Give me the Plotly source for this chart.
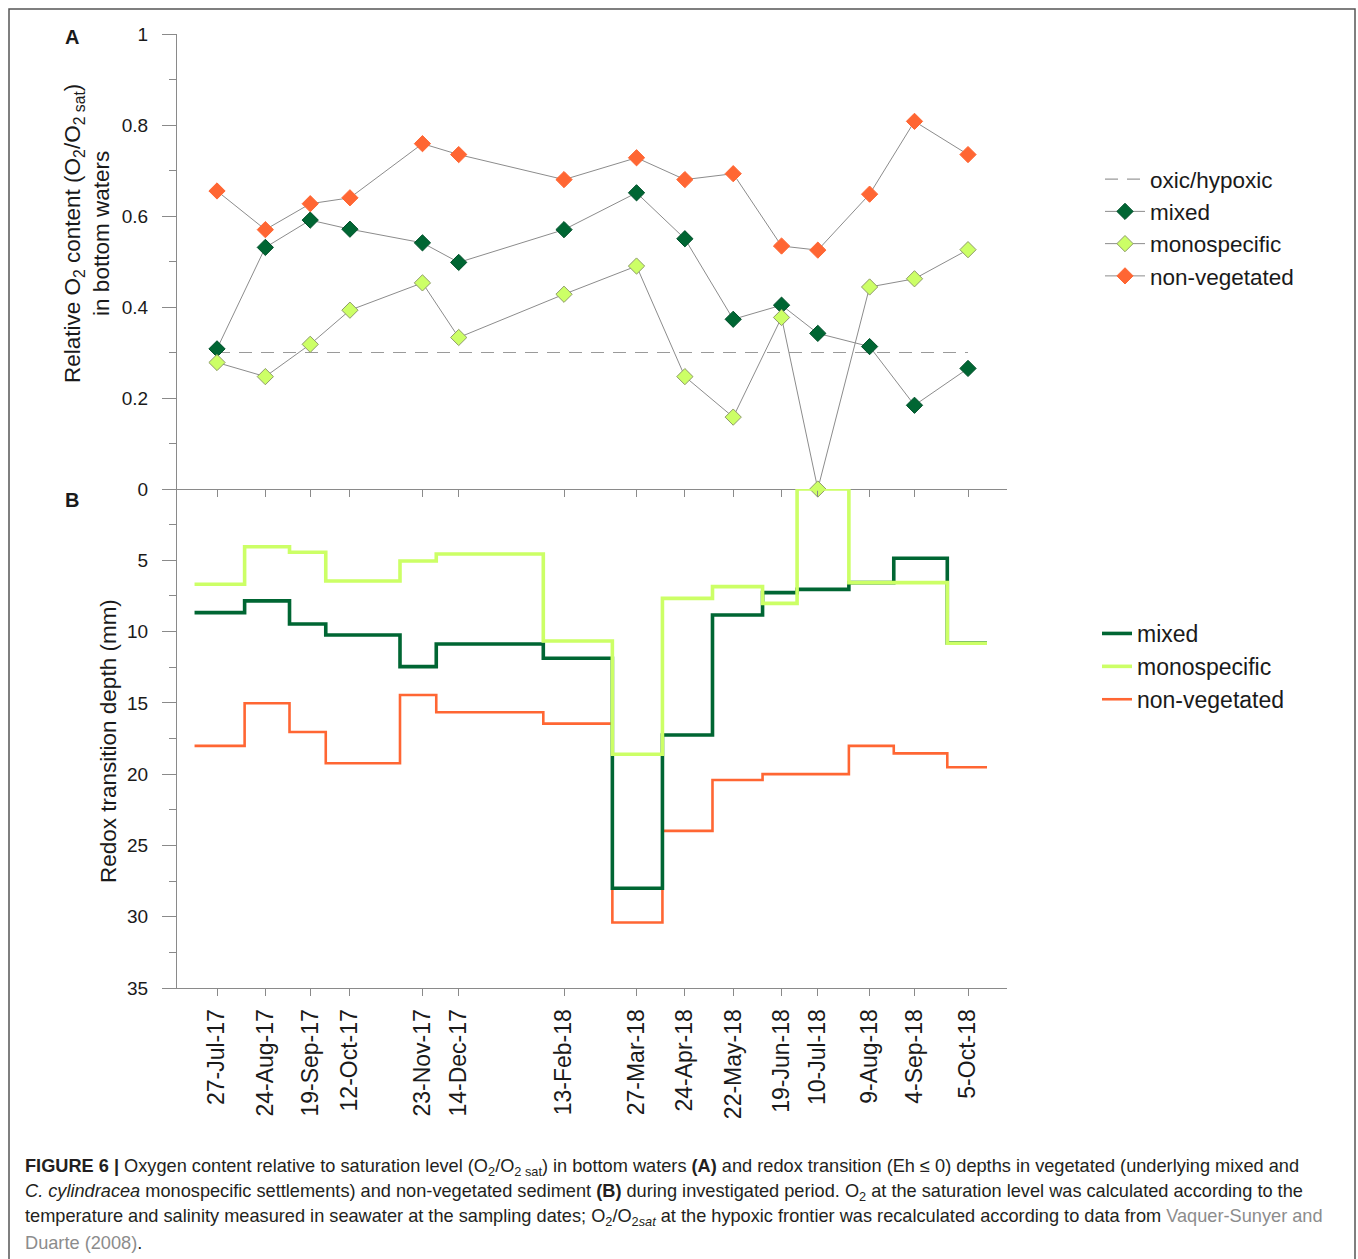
import pandas as pd
import plotly.graph_objects as go

# ---------------- data ----------------
dates = ['2017-07-27', '2017-08-24', '2017-09-19', '2017-10-12', '2017-11-23',
         '2017-12-14', '2018-02-13', '2018-03-27', '2018-04-24', '2018-05-22',
         '2018-06-19', '2018-07-10', '2018-08-09', '2018-09-04', '2018-10-05']
date_labels = ['27-Jul-17', '24-Aug-17', '19-Sep-17', '12-Oct-17', '23-Nov-17',
               '14-Dec-17', '13-Feb-18', '27-Mar-18', '24-Apr-18', '22-May-18',
               '19-Jun-18', '10-Jul-18', '9-Aug-18', '4-Sep-18', '5-Oct-18']

# boundaries between the sampling periods used for the step lines in panel B
period_edges = ['2017-07-14', '2017-08-12', '2017-09-07', '2017-09-28', '2017-11-10',
                '2017-12-01', '2018-02-01', '2018-03-13', '2018-04-11', '2018-05-10',
                '2018-06-08', '2018-06-28', '2018-07-28', '2018-08-23', '2018-09-23',
                '2018-10-16']

o2_mixed = [0.308, 0.531, 0.591, 0.571, 0.541, 0.498, 0.570, 0.651, 0.550, 0.373,
            0.404, 0.342, 0.313, 0.184, 0.265]
o2_mono = [0.278, 0.247, 0.318, 0.393, 0.453, 0.333, 0.428, 0.490, 0.247, 0.158,
           0.377, 0.000, 0.444, 0.462, 0.526]
o2_nonveg = [0.655, 0.570, 0.627, 0.640, 0.759, 0.735, 0.680, 0.728, 0.680, 0.693,
             0.534, 0.525, 0.648, 0.808, 0.735]
hypoxic_level = 0.3

redox_mixed = [8.67, 7.85, 9.47, 10.24, 12.46, 10.87, 11.87, 28.0, 17.25, 8.84,
               7.27, 7.04, 6.57, 4.86, 10.8]
redox_mono = [6.68, 4.05, 4.44, 6.45, 5.05, 4.56, 10.66, 18.6, 7.67, 6.85,
              8.02, 0.0, 6.57, 6.57, 10.82]
redox_nonveg = [18.02, 15.03, 17.04, 19.24, 14.45, 15.66, 16.46, 30.41, 23.98, 20.41,
                20.0, 20.0, 18.02, 18.54, 19.52]

top_ticks = [0.2, 0.4, 0.6, 0.8, 1.0]
top_ticktext = ['0.2', '0.4', '0.6', '0.8', '1']
top_minor = [0.1, 0.3, 0.5, 0.7, 0.9]
bot_ticks = [0, 5, 10, 15, 20, 25, 30, 35]
bot_minor = [2.5, 7.5, 12.5, 17.5, 22.5, 27.5, 32.5]

# ---------------- styles ----------------
C_MIX = '#006633'
C_MONO = '#CCFF66'
C_NON = '#FF6633'
FONT = 'Liberation Sans, Arial, sans-serif'
TXT = '#1a1a1a'
AX = '#8a8a8a'

W, H = 1358, 1259
L, R, T, B = 177, 1007, 34, 988   # plot area pixels
SPLIT = 489


def px_x(p):
    return (p - L) / (R - L)


def px_y(p):
    return (B - p) / (B - T)


def step_y(vals):
    return list(vals) + [vals[-1]]


fig = go.Figure()

# ---- panel A ----
fig.add_trace(go.Scatter(
    x=dates, y=[hypoxic_level] * len(dates), mode='lines', name='oxic/hypoxic',
    line=dict(color='#9a9a9a', width=1.2, dash='13px,9px'),
    xaxis='x', yaxis='y', legend='legend'))
for name, vals, col, edge in [('mixed', o2_mixed, C_MIX, '#00502a'),
                              ('monospecific', o2_mono, C_MONO, '#8f9b6a'),
                              ('non-vegetated', o2_nonveg, C_NON, '#ff6633')]:
    fig.add_trace(go.Scatter(
        x=dates, y=vals, mode='lines+markers', name=name,
        line=dict(color='#8c8c8c', width=1),
        marker=dict(symbol='diamond', size=12.5, color=col,
                    line=dict(color=edge, width=1)),
        cliponaxis=False, xaxis='x', yaxis='y', legend='legend'))

# ---- panel B ----
for name, vals, col, w, rank in [('non-vegetated', redox_nonveg, C_NON, 2.6, 3),
                                 ('mixed', redox_mixed, C_MIX, 3.6, 1),
                                 ('monospecific', redox_mono, C_MONO, 3.6, 2)]:
    fig.add_trace(go.Scatter(
        x=period_edges, y=step_y(vals), mode='lines', name=name,
        line=dict(color=col, width=w, shape='hv'),
        cliponaxis=False, xaxis='x2', yaxis='y2', legend='legend2',
        legendrank=rank))

xrange = ['2017-07-03 20:00', '2018-10-27 14:00']
dom_split = px_y(SPLIT)

common_axis = dict(showgrid=False, zeroline=False, showline=True, linecolor=AX,
                   linewidth=1, ticks='outside', tickcolor=AX, tickwidth=1)

fig.update_layout(
    width=W, height=H,
    margin=dict(l=L, r=W - R, t=T, b=H - B, pad=0),
    paper_bgcolor='white', plot_bgcolor='white',
    font=dict(family=FONT, color=TXT, size=19),
    xaxis=dict(**common_axis, type='date', range=xrange, anchor='y',
               tickmode='array', tickvals=dates,
               showticklabels=False, ticklen=7),
    yaxis=dict(**common_axis, domain=[dom_split, 1], range=[0, 1], anchor='x',
               tickmode='array', tickvals=top_ticks, ticktext=top_ticktext,
               ticklen=14, ticklabelstandoff=10,
               tickfont=dict(size=19, color=TXT),
               minor=dict(tickvals=top_minor, ticklen=7, ticks='outside',
                          tickcolor=AX, showgrid=False)),
    xaxis2=dict(**common_axis, type='date', range=xrange, anchor='y2',
                matches='x', tickmode='array', tickvals=dates,
                ticktext=date_labels, tickangle=-90, ticklen=7,
                ticklabelstandoff=4, tickfont=dict(size=23, color=TXT)),
    yaxis2=dict(**common_axis, domain=[0, dom_split], range=[35, 0], anchor='x2',
                tickmode='array', tickvals=bot_ticks,
                ticktext=[str(v) for v in bot_ticks],
                ticklen=14, ticklabelstandoff=10,
                tickfont=dict(size=19, color=TXT),
                minor=dict(tickvals=bot_minor, ticklen=7, ticks='outside',
                           tickcolor=AX, showgrid=False)),
    legend=dict(x=px_x(1100), y=px_y(158), xanchor='left', yanchor='top',
                bgcolor='rgba(0,0,0,0)', font=dict(size=22.5, color=TXT),
                itemwidth=40, tracegroupgap=0),
    legend2=dict(x=px_x(1097), y=px_y(612), xanchor='left', yanchor='top',
                 bgcolor='rgba(0,0,0,0)', font=dict(size=23, color=TXT),
                 itemwidth=30, tracegroupgap=0),
    showlegend=True,
)

ann = []


def add_ann(text, x, y, size, **kw):
    d = dict(text=text, x=px_x(x), y=px_y(y), xref='paper', yref='paper',
             showarrow=False, font=dict(size=size, color=kw.pop('color', TXT)),
             xanchor=kw.pop('xanchor', 'center'), yanchor='middle', borderpad=0)
    d.update(kw)
    ann.append(d)


add_ann('<b>A</b>', 72, 37, 20)
add_ann('<b>B</b>', 72, 500, 20)
add_ann('Relative O<sub>2</sub> content (O<sub>2</sub>/O<sub>2 sat</sub>)<br>in bottom waters',
        87, 234, 22.5, textangle=-90)
add_ann('Redox transition depth (mm)', 108, 741, 22.5, textangle=-90)

GRAY = '#8c8c8c'
caption = [
    "<b>FIGURE 6 |</b> Oxygen content relative to saturation level (O<sub>2</sub>/O<sub>2 sat</sub>) in bottom waters <b>(A)</b> and redox transition (Eh ≤ 0) depths in vegetated (underlying mixed and",
    "<i>C. cylindracea</i> monospecific settlements) and non-vegetated sediment <b>(B)</b> during investigated period. O<sub>2</sub> at the saturation level was calculated according to the",
    f"temperature and salinity measured in seawater at the sampling dates; O<sub>2</sub>/O<sub>2<i>sat</i></sub> at the hypoxic frontier was recalculated according to data from <span style='color:{GRAY}'>Vaquer-Sunyer and</span>",
    f"<span style='color:{GRAY}'>Duarte (2008)</span>.",
]
for i, line in enumerate(caption):
    add_ann(line, 24, 1167 + 25.4 * i, 18.2, xanchor='left', align='left',
            color='#231f20')
fig.update_layout(annotations=ann)

fig.add_shape(type='rect', xref='paper', yref='paper',
              x0=px_x(9), x1=px_x(1355), y0=px_y(1290), y1=px_y(9),
              line=dict(color='#555555', width=1.5), fillcolor='rgba(0,0,0,0)',
              layer='below')

fig.write_html('out.html')
